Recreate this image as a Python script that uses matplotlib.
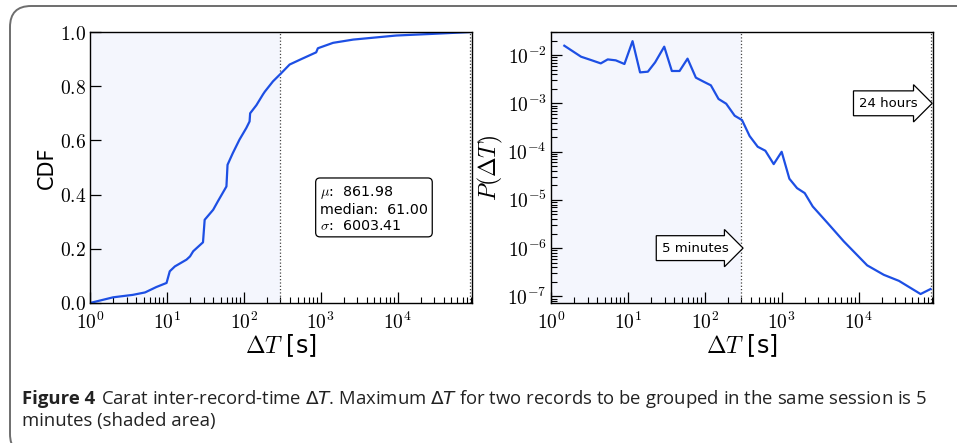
import numpy as np
import matplotlib.pyplot as plt
from matplotlib.patches import FancyBboxPatch
from matplotlib.ticker import FuncFormatter, LogLocator

plt.rcParams['mathtext.fontset'] = 'cm'
plt.rcParams['font.family'] = 'DejaVu Sans'

# CDF of inter-record time (left panel)
cdf_dt = [1.0, 2.0, 3.6, 5.2, 7.3, 9.9, 10.9, 12.7, 18, 20, 22, 29.5, 31, 40, 46,
          59.5, 61.5, 72, 88, 108, 119, 121, 146, 178, 188, 240, 302, 395, 560,
          875, 920, 1450, 2650, 9600, 28000, 90000]
cdf_val = [0.0, 0.021, 0.03, 0.039, 0.059, 0.074, 0.117, 0.135, 0.16, 0.172,
           0.191, 0.224, 0.307, 0.344, 0.375, 0.43, 0.51, 0.553, 0.603, 0.646,
           0.67, 0.70, 0.73, 0.77, 0.78, 0.818, 0.846, 0.88, 0.90, 0.925, 0.94,
           0.96, 0.972, 0.987, 0.993, 1.0]

# distribution P(dT) (right panel)
pdf_dt = [1.49, 2.46, 3.32, 4.44, 5.47, 6.96, 9.02, 11.5, 14.4, 18.2, 22.6, 29.7,
          37.3, 47.0, 59.7, 76.6, 96.4, 120, 151, 190, 245, 305, 383, 488, 614,
          788, 1000, 1260, 1585, 1995, 2535, 3900, 6430, 12950, 21300, 33500,
          64100, 86400]
pdf_val = [0.0156, 0.00923, 0.00787, 0.00671, 0.00812, 0.00776, 0.00652, 0.0194,
           0.00437, 0.00452, 0.00705, 0.0149, 0.00467, 0.00467, 0.00842, 0.0034,
           0.00281, 0.00236, 0.00123, 0.00098, 0.000553, 0.00045, 0.00021,
           0.000126, 0.000104, 5.5e-5, 9.9e-5, 2.74e-5, 1.75e-5, 1.38e-5, 7.3e-6,
           3.4e-6, 1.38e-6, 4.4e-7, 2.8e-7, 2.1e-7, 1.12e-7, 1.42e-7]

cdf_ticks = [0.0, 0.2, 0.4, 0.6, 0.8, 1.0]
pdf_ticks = [1e-7, 1e-6, 1e-5, 1e-4, 1e-3, 1e-2]
dt_ticks = [1, 10, 100, 1000, 10000]
stats_text = "$\\mu$:  861.98\nmedian:  61.00\n$\\sigma$:  6003.41"
session_gap = 300      # 5 minutes
day_gap = 86400        # 24 hours

line_c = '#1d4fe4'
shade_c = '#f4f6fd'

W, H = 957, 443
fig = plt.figure(figsize=(W / 100, H / 100), dpi=100)

# outer rounded frame (cut off on the right and bottom)
frame = FancyBboxPatch((10 / W, -12 / H), 980 / W, (443 - 6 + 12) / H,
                       boxstyle="round,pad=0,rounding_size=0.022",
                       transform=fig.transFigure, fc='none', ec='#6e6e6e',
                       lw=1.4, clip_on=False, mutation_aspect=W / H)
fig.patches.append(frame)

ax1 = fig.add_axes([90 / W, 1 - 303 / H, (472 - 90) / W, (303 - 32) / H])
ax2 = fig.add_axes([551 / W, 1 - 303 / H, (933 - 551) / W, (303 - 32) / H])

log_fmt = FuncFormatter(lambda v, _: r'$10^{%d}$' % round(np.log10(v)))

for ax in (ax1, ax2):
    ax.axvspan(1, session_gap, color=shade_c, lw=0, zorder=0)
    ax.axvline(session_gap, color='#444444', ls=':', lw=0.9)
    ax.axvline(day_gap, color='#444444', ls=':', lw=0.9)
    ax.set_xscale('log')
    ax.set_xlim(1, 9.3e4)
    ax.set_xticks(dt_ticks)
    ax.xaxis.set_major_formatter(log_fmt)
    ax.xaxis.set_minor_locator(LogLocator(base=10, subs=np.arange(2, 10)))
    ax.tick_params(which='major', direction='in', length=8, width=0.9,
                   labelsize=14, pad=3, top=False, right=False)
    ax.tick_params(which='minor', direction='in', length=4.5, width=0.8,
                   top=False, right=False)
    ax.tick_params(axis='x', which='major', pad=6)
    for s in ax.spines.values():
        s.set_linewidth(1.0)
    ax.set_xlabel(r'$\Delta T$ [s]', fontsize=17, labelpad=0)

# left: CDF
ax1.plot(cdf_dt, cdf_val, color=line_c, lw=1.6)
ax1.set_ylim(0, 1.0)
ax1.set_yticks(cdf_ticks)
ax1.yaxis.set_major_formatter(FuncFormatter(lambda v, _: r'$%.1f$' % v))
ax1.set_ylabel('CDF', fontsize=15, labelpad=2)
ax1.text(0.602, 0.349, stats_text, transform=ax1.transAxes, ha='left',
         va='center', fontsize=10.3, linespacing=1.15,
         bbox=dict(boxstyle='round,pad=0.3', fc='white', ec='black', lw=0.9))

# right: P(dT)
ax2.plot(pdf_dt, pdf_val, color=line_c, lw=1.6)
ax2.set_yscale('log')
ax2.set_ylim(7.3e-8, 3.0e-2)
ax2.set_yticks(pdf_ticks)
ax2.yaxis.set_major_formatter(log_fmt)
ax2.yaxis.set_minor_locator(LogLocator(base=10, subs=np.arange(2, 10)))
ax2.tick_params(axis='y', which='minor', direction='in', length=4.5)
ax2.set_ylabel(r'$P(\Delta T)$', fontsize=17, labelpad=2)

for label, xv, yv in [('5 minutes', session_gap, 1e-6), ('24 hours', day_gap, 1e-3)]:
    ax2.annotate(label, xy=(xv, yv), xytext=(-9, 0), textcoords='offset points',
                 ha='right', va='center', fontsize=9.5,
                 bbox=dict(boxstyle='rarrow,pad=0.45', fc='white', ec='black', lw=0.9))

# caption
cap_font = ['Liberation Sans Narrow', 'Open Sans']
cap_size = 13.3
renderer = fig.canvas.get_renderer()
t0 = fig.text(22 / W, 1 - 404 / H, 'Figure 4', fontsize=cap_size, fontweight='bold',
              family=cap_font, color='#222222', va='baseline')
bb = t0.get_window_extent(renderer)
fig.text((bb.x1 + 6) / W, 1 - 404 / H,
         r'Carat inter-record-time $\Delta T$. Maximum $\Delta T$ for two records '
         r'to be grouped in the same session is 5',
         fontsize=cap_size, family=cap_font, color='#222222', va='baseline',
         math_fontfamily='dejavusans')
fig.text(22 / W, 1 - 426 / H, 'minutes (shaded area)', fontsize=cap_size,
         family=cap_font, color='#222222', va='baseline')

fig.savefig('out.png', dpi=100)
